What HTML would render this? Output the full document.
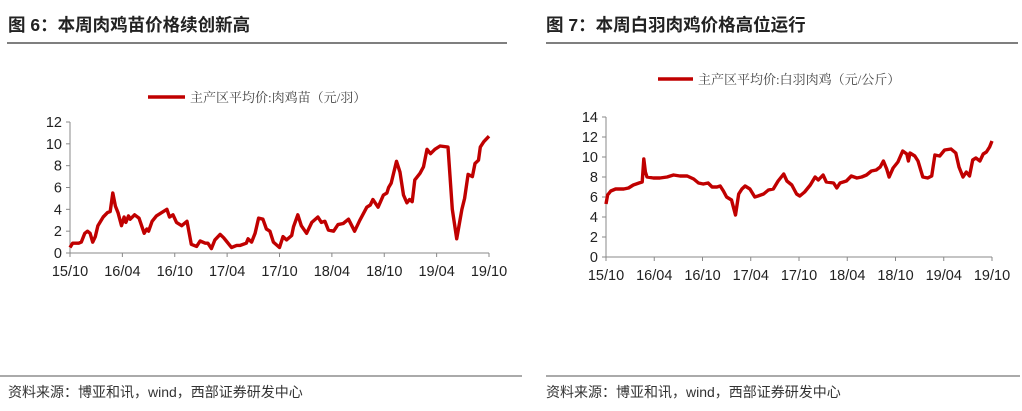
<!DOCTYPE html>
<html><head><meta charset="utf-8">
<style>
body{margin:0;width:1022px;height:411px;background:#fff;overflow:hidden;font-family:"Liberation Sans","Noto Sans CJK SC",sans-serif;}
svg{position:absolute;left:0;top:0;}
</style></head>
<body>
<svg id="c" width="1022" height="411">
<text x="8" y="31" font-size="17.5" font-weight="bold" fill="#222" font-family="Liberation Sans, Noto Sans CJK SC, sans-serif">图 6：本周肉鸡苗价格续创新高</text>
<line x1="7" y1="43" x2="507" y2="43" stroke="#333" stroke-width="1.2"/>
<text x="546" y="31" font-size="17.5" font-weight="bold" fill="#222" font-family="Liberation Sans, Noto Sans CJK SC, sans-serif">图 7：本周白羽肉鸡价格高位运行</text>
<line x1="546" y1="43" x2="1018" y2="43" stroke="#333" stroke-width="1.2"/>
<line x1="148" y1="97" x2="185" y2="97" stroke="#c00000" stroke-width="3.5"/>
<text x="190" y="102" font-size="13" fill="#444" font-family="Liberation Serif, Noto Serif CJK SC, serif">主产区平均价:肉鸡苗（元/羽）</text>
<line x1="658" y1="79" x2="693" y2="79" stroke="#c00000" stroke-width="3.5"/>
<text x="698" y="84" font-size="13" fill="#444" font-family="Liberation Serif, Noto Serif CJK SC, serif">主产区平均价:白羽肉鸡（元/公斤）</text>
<line x1="0" y1="376" x2="522" y2="376" stroke="#555" stroke-width="1"/>
<line x1="546" y1="376" x2="1020" y2="376" stroke="#555" stroke-width="1"/>
<text x="8" y="397" font-size="14" fill="#333">资料来源：博亚和讯，wind，西部证券研发中心</text>
<text x="546" y="397" font-size="14" fill="#333">资料来源：博亚和讯，wind，西部证券研发中心</text>
</svg>
<script>
const xTickLabels=["15/10","16/04","16/10","17/04","17/10","18/04","18/10","19/04","19/10"];
const c1Ticks=[0,2,4,6,8,10,12];
const c1Months=[0,.3,1,1.3,1.7,2,2.3,2.6,2.9,3.2,3.8,4.3,4.6,4.9,5.2,5.5,5.9,6.2,6.4,6.7,6.9,7.4,7.9,8.5,8.8,9,9.4,9.9,10.5,11.1,11.4,11.8,12.2,12.8,13.4,13.9,14.5,14.9,15.5,15.8,16.2,16.6,17.2,17.6,17.9,18.5,19.1,19.5,20.2,20.4,20.8,21.2,21.6,22.1,22.5,22.9,23.3,24,24.4,24.8,25.4,25.6,26.1,26.5,27.1,27.7,28.4,28.8,29.2,29.6,30.2,30.7,31.3,31.9,32.6,33.2,34,34.4,34.7,35.3,35.9,36.3,36.5,36.8,37.4,37.8,38.2,38.6,38.9,39.2,39.5,40.1,40.5,40.9,41.3,41.8,42.4,43.3,43.8,44.3,44.9,45.2,45.6,46.1,46.4,46.8,47,47.4,48];
const c1Values=[.5,.9,.9,1,1.8,2,1.8,1,1.5,2.5,3.3,3.7,3.8,5.5,4.3,3.7,2.5,3.3,2.8,3.4,3.1,3.5,3.2,1.8,2.2,2,2.9,3.4,3.7,4,3.3,3.5,2.8,2.5,2.9,.8,.6,1.1,.9,.9,.4,1.2,1.7,1.4,1.1,.5,.7,.7,.9,1.3,1,1.8,3.2,3.1,2.2,2,1,.5,1.5,1.2,1.6,2.4,3.5,2.5,1.8,2.8,3.3,2.8,2.9,2.1,2,2.6,2.7,3.1,2,3,4.2,4.4,4.9,4.2,5.3,5.5,6,6.4,8.4,7.4,5.3,4.6,4.9,4.7,6.7,7.3,7.9,9.5,9.1,9.5,9.8,9.7,4,1.3,4,5,7.2,7,8.2,8.5,9.7,10.2,10.7];
const c2Ticks=[0,2,4,6,8,10,12,14];
const c2Months=[0,.2,.6,1.2,2.2,2.8,3.4,4.1,4.5,4.7,4.9,5.1,5.9,6.7,7.6,8.4,9.2,10.1,10.9,11.5,12.1,12.7,13.2,13.8,14.2,14.6,15,15.6,16.1,16.5,16.9,17.3,17.9,18.5,18.9,19.6,20.2,20.8,21.4,22.1,22.5,23.1,23.7,24.1,24.7,25.4,26,26.4,27,27.4,28.3,28.7,29.1,29.9,30.5,31.2,31.8,32.4,33,33.6,34.1,34.5,34.9,35.2,35.7,36.3,36.9,37.4,37.6,37.8,38.4,38.8,39.4,40,40.5,40.9,41.5,42.1,42.9,43.5,43.9,44.4,44.8,45.2,45.6,46,46.5,46.9,47.3,47.7,48];
const c2Values=[5.3,6.2,6.6,6.8,6.8,6.9,7.2,7.4,7.5,9.8,8.5,8,7.9,7.9,8,8.2,8.1,8.1,7.8,7.4,7.3,7.4,7,7,7.1,6.6,6,5.7,4.2,6.3,6.8,7.1,6.8,6,6.1,6.3,6.7,6.8,7.6,8.3,7.6,7.2,6.3,6.1,6.5,7.2,8,7.7,8.2,7.5,7.4,6.9,7.4,7.6,8.1,7.9,8,8.2,8.6,8.7,9,9.6,8.8,8,8.9,9.5,10.6,10.3,9.6,10.4,10.1,9.6,8,7.9,8.1,10.2,10.1,10.7,10.8,10.4,9,8,8.5,8.1,9.7,9.9,9.6,10.3,10.5,11,11.6];

const NS='http://www.w3.org/2000/svg';
const svg=document.getElementById('c');
function mk(tag,attrs){const e=document.createElementNS(NS,tag);for(const k in attrs)e.setAttribute(k,attrs[k]);svg.appendChild(e);return e;}
function chart(p,ticks,months,values){
  const yMax=ticks[ticks.length-1];
  const sx=m=>p.x0+(p.x1-p.x0)*m/48;
  const sy=v=>p.y0-(p.y0-p.yTop)*v/yMax;
  let a=mk('line',{x1:p.x0,y1:p.yTop,x2:p.x0,y2:p.y0,stroke:'#888','stroke-width':1});
  
  
  a=mk('line',{x1:p.x0,y1:p.y0,x2:p.x1,y2:p.y0,stroke:'#888','stroke-width':1});
  
  
  ticks.forEach(t=>{
    const tk=mk('line',{x1:p.x0-4,y1:sy(t),x2:p.x0,y2:sy(t),stroke:'#888'});
    
    
    const tx=mk('text',{x:p.x0-8,y:sy(t)+5,'font-size':14.5,fill:'#222','text-anchor':'end'});
    tx.textContent=t;
    
    
  });
  xTickLabels.forEach((l,i)=>{
    const x=sx(i*6);
    const tk=mk('line',{x1:x,y1:p.y0,x2:x,y2:p.y0+4,stroke:'#888'});
    
    
    const tx=mk('text',{x:x,y:p.y0+23,'font-size':14.5,fill:'#222','text-anchor':'middle'});
    tx.textContent=l;
    
    
  });
  const d=months.map((m,i)=>(i?'L':'M')+sx(m).toFixed(1)+','+sy(values[i]).toFixed(1)).join('');
  const ln=mk('path',{d:d,fill:'none',stroke:'#c00000','stroke-width':3.4,'stroke-linejoin':'round'});
  
  
}
chart({id:'chart6',x0:70,x1:489,y0:253,yTop:122},c1Ticks,c1Months,c1Values);
chart({id:'chart7',x0:606,x1:992,y0:257,yTop:117},c2Ticks,c2Months,c2Values);
</script>
</body></html>
